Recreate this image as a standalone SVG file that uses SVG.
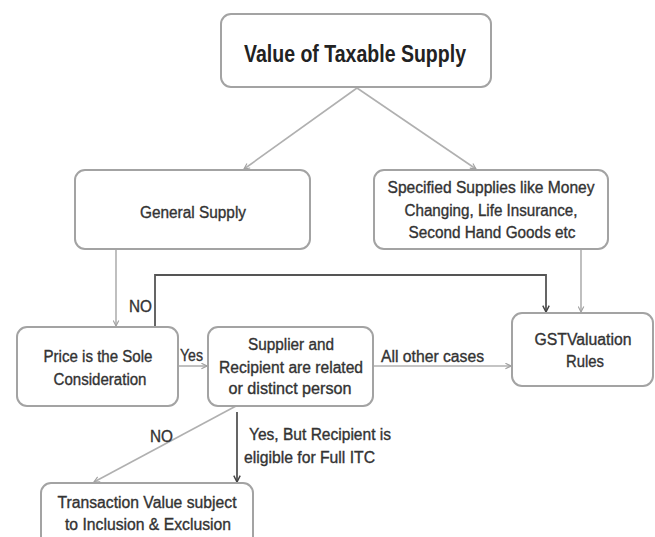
<svg xmlns="http://www.w3.org/2000/svg" width="655" height="537" viewBox="0 0 655 537">
  <style>
    .box { fill: #ffffff; stroke: #a3a3a3; stroke-width: 2; }
    .t { font-family: "Liberation Sans", Arial, sans-serif; font-size: 16px; fill: #333333; stroke: #333333; stroke-width: 0.35; text-anchor: middle; }
    .title { font-family: "Liberation Sans", Arial, sans-serif; font-size: 24px; font-weight: bold; fill: #222222; text-anchor: middle; }
    .lbl { font-family: "Liberation Sans", Arial, sans-serif; font-size: 16px; fill: #333333; stroke: #333333; stroke-width: 0.35; }
    .light { fill: none; stroke: #b0b0b0; stroke-width: 1.6; marker-end: url(#arrLight); }
    .dark { fill: none; stroke: #555555; stroke-width: 1.8; marker-end: url(#arrDark); }
  </style>
  <defs>
    <marker id="arrLight" viewBox="0 0 10 10" refX="9" refY="5" markerWidth="7" markerHeight="7" orient="auto" markerUnits="userSpaceOnUse">
      <path d="M1,1 L9,5 L1,9" fill="none" stroke="#a0a0a0" stroke-width="1.6"/>
    </marker>
    <marker id="arrDark" viewBox="0 0 10 10" refX="9" refY="5" markerWidth="8" markerHeight="8" orient="auto" markerUnits="userSpaceOnUse">
      <path d="M1,1 L9,5 L1,9" fill="none" stroke="#444444" stroke-width="1.8"/>
    </marker>
  </defs>

  <rect width="655" height="537" fill="#ffffff"/>

  <!-- connectors -->
  <g id="connectors">
    <line class="light" x1="357" y1="88" x2="244" y2="169"/>
    <line class="light" x1="357" y1="88" x2="476" y2="169"/>
    <line class="light" x1="116" y1="250" x2="116" y2="326"/>
    <line class="light" x1="581" y1="250" x2="581" y2="312"/>
    <polyline class="dark" points="155,327 155,275 546,275 546,312"/>
    <line class="light" x1="178" y1="366" x2="207" y2="366"/>
    <line class="light" x1="373" y1="366" x2="511" y2="366"/>
    <line class="light" x1="236" y1="406" x2="94" y2="482"/>
    <line class="dark" x1="237" y1="412" x2="237" y2="482"/>
  </g>

  <!-- connector labels -->
  <g id="labels">
    <text class="lbl" x="129" y="312" textLength="23" lengthAdjust="spacingAndGlyphs">NO</text>
    <text class="lbl" x="180" y="361" textLength="23" lengthAdjust="spacingAndGlyphs">Yes</text>
    <text class="lbl" x="381" y="362" textLength="103" lengthAdjust="spacingAndGlyphs">All other cases</text>
    <text class="lbl" x="150" y="442" textLength="23" lengthAdjust="spacingAndGlyphs">NO</text>
    <text class="lbl" x="249" y="440" textLength="142" lengthAdjust="spacingAndGlyphs">Yes, But Recipient is</text>
    <text class="lbl" x="244" y="463" textLength="131" lengthAdjust="spacingAndGlyphs">eligible for Full ITC</text>
  </g>

  <!-- nodes -->
  <g id="value-of-taxable-supply">
    <rect class="box" x="221" y="14" width="270" height="73" rx="10"/>
    <text class="title" x="355" y="62" textLength="222" lengthAdjust="spacingAndGlyphs">Value of Taxable Supply</text>
  </g>

  <g id="general-supply">
    <rect class="box" x="75" y="170" width="235" height="79" rx="10"/>
    <text class="t" x="193" y="218" textLength="106" lengthAdjust="spacingAndGlyphs">General Supply</text>
  </g>

  <g id="specified-supplies">
    <rect class="box" x="374" y="170" width="234" height="79" rx="10"/>
    <text class="t" x="491" y="193" textLength="207" lengthAdjust="spacingAndGlyphs">Specified Supplies like Money</text>
    <text class="t" x="491" y="216" textLength="173" lengthAdjust="spacingAndGlyphs">Changing, Life Insurance,</text>
    <text class="t" x="492" y="238" textLength="167" lengthAdjust="spacingAndGlyphs">Second Hand Goods etc</text>
  </g>

  <g id="price-sole-consideration">
    <rect class="box" x="17" y="327" width="161" height="79" rx="10"/>
    <text class="t" x="98" y="362" textLength="109" lengthAdjust="spacingAndGlyphs">Price is the Sole</text>
    <text class="t" x="100" y="385" textLength="93" lengthAdjust="spacingAndGlyphs">Consideration</text>
  </g>

  <g id="supplier-recipient-related">
    <rect class="box" x="208" y="327" width="165" height="79" rx="10"/>
    <text class="t" x="291" y="350" textLength="86" lengthAdjust="spacingAndGlyphs">Supplier and</text>
    <text class="t" x="291" y="373" textLength="144" lengthAdjust="spacingAndGlyphs">Recipient are related</text>
    <text class="t" x="290" y="394" textLength="123" lengthAdjust="spacingAndGlyphs">or distinct person</text>
  </g>

  <g id="gst-valuation-rules">
    <rect class="box" x="512" y="313" width="141" height="73" rx="10"/>
    <text class="t" x="583" y="345" textLength="97" lengthAdjust="spacingAndGlyphs">GSTValuation</text>
    <text class="t" x="585" y="367" textLength="38" lengthAdjust="spacingAndGlyphs">Rules</text>
  </g>

  <g id="transaction-value">
    <rect class="box" x="41" y="483" width="212" height="70" rx="10"/>
    <text class="t" x="147" y="508" textLength="179" lengthAdjust="spacingAndGlyphs">Transaction Value subject</text>
    <text class="t" x="148" y="530" textLength="166" lengthAdjust="spacingAndGlyphs">to Inclusion &amp; Exclusion</text>
  </g>
</svg>
